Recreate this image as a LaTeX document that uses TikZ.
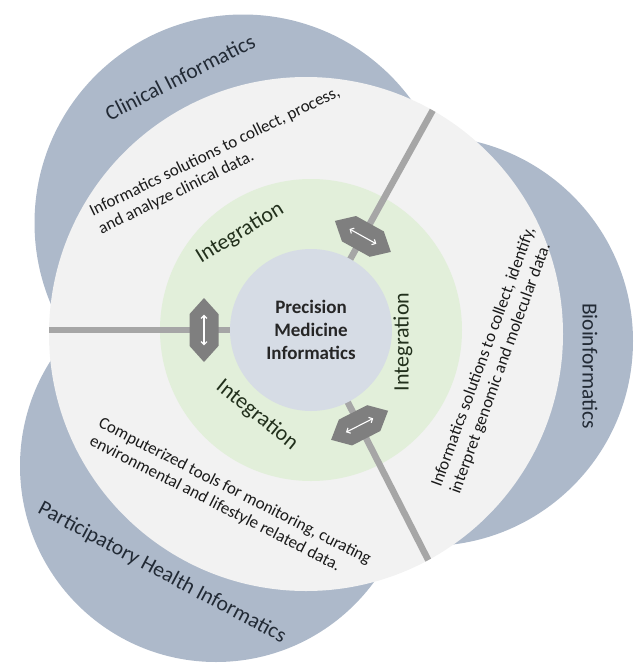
\documentclass[tikz,border=0pt]{standalone}
\usepackage{fontspec}
\setmainfont{Carlito}
\usetikzlibrary{shapes.symbols,arrows.meta}
\definecolor{lobe}{HTML}{ADB9CA}
\definecolor{disc}{HTML}{F2F2F2}
\definecolor{ring}{HTML}{E2EFDA}
\definecolor{core}{HTML}{D6DCE5}
\definecolor{bar}{HTML}{A6A6A6}
\definecolor{hexc}{HTML}{7F7F7F}
\definecolor{titlec}{HTML}{222A35}
\definecolor{intc}{HTML}{22301C}
\definecolor{descc}{HTML}{1A1A1A}
\begin{document}
\begin{tikzpicture}[x=1pt,y=-1pt,
  roundshape/.style={circle, inner sep=0pt, draw=none},
  title/.style={font=\fontsize{21.5}{25}\selectfont, text=titlec, inner sep=0pt},
  desc/.style={font=\fontsize{17}{20}\selectfont, text=descc, align=left, inner sep=0pt, anchor=west},
  integ/.style={font=\fontsize{22}{26}\selectfont, text=intc, inner sep=0pt},
  hexnode/.style={signal, signal to=east and west, signal pointer angle=84, fill=hexc,
    minimum width=64pt, minimum height=29pt, inner sep=0pt},
  link/.style={draw=bar, line width=6.5pt},
  twoway/.style={white, line width=1.1pt,
    {Straight Barb[length=3pt,width=6pt]}-{Straight Barb[length=3pt,width=6pt]},
    shorten <=17pt, shorten >=17pt}
]
\useasboundingbox (0,0) rectangle (642,665);
% lobes
\node[roundshape, fill=lobe, minimum size=417pt] (clin) at (243,223) {};
\node[roundshape, fill=lobe, minimum size=410pt] (bio) at (428,341) {};
\node[roundshape, fill=lobe, minimum size=392pt] (part) at (216,466) {};
% main disc and ring
\node[roundshape, fill=disc, minimum size=514pt] (disc) at (306,334) {};
\node[roundshape, fill=ring, minimum size=302pt] (ring) at (311,330) {};
\coordinate (c) at (311,330);
\coordinate (o1) at (456.4,67.6);
\coordinate (o2) at (11,330);
\coordinate (o3) at (447.2,597.3);
\begin{scope}
  \clip (306,334) circle[radius=257pt];
  \draw[link] (c) -- (o1);
  \draw[link] (c) -- (o2);
  \draw[link] (c) -- (o3);
\end{scope}
% core
\node[roundshape, fill=core, minimum size=162pt, align=center,
  font=\bfseries\fontsize{19}{23}\selectfont, text=black!85] (core) at (c)
  {Precision\\Medicine\\Informatics};
% hexagon links
\node[hexnode, rotate=-29] (h1) at (362.9,236.4) {};
\node[hexnode, rotate=90] (h2) at (204,330) {};
\node[hexnode, rotate=27] (h3) at (359.6,425.3) {};
\draw[twoway] (h1.west) -- (h1.east);
\draw[twoway] (h2.west) -- (h2.east);
\draw[twoway] (h3.west) -- (h3.east);
% titles
\node[title, rotate=27] (tclin) at (180,77) {Clinical Informatics};
\node[title, rotate=-90] (tbio) at (590,366) {Bioinformatics};
\node[title, rotate=-28] (tpart) at (162,573) {Participatory Health Informatics};
% descriptions
\node[desc, rotate=26] (dclin) at (95,221.5)
  {Informatics solutions to collect, process,\\and analyze clinical data.};
\node[desc, rotate=70] (dbio) at (446,490)
  {Informatics solutions to collect, identify,\\interpret genomic and molecular data.};
\node[desc, rotate=-27] (dpart) at (95,431.5)
  {Computerized tools for monitoring, curating\\environmental and lifestyle related data.};
% integration labels
\node[integ, rotate=31.6] (i1) at (240,233) {Integration};
\node[integ, rotate=90] (i2) at (403,342) {Integration};
\node[integ, rotate=-39] (i3) at (257,415) {Integration};
\end{tikzpicture}
\end{document}
